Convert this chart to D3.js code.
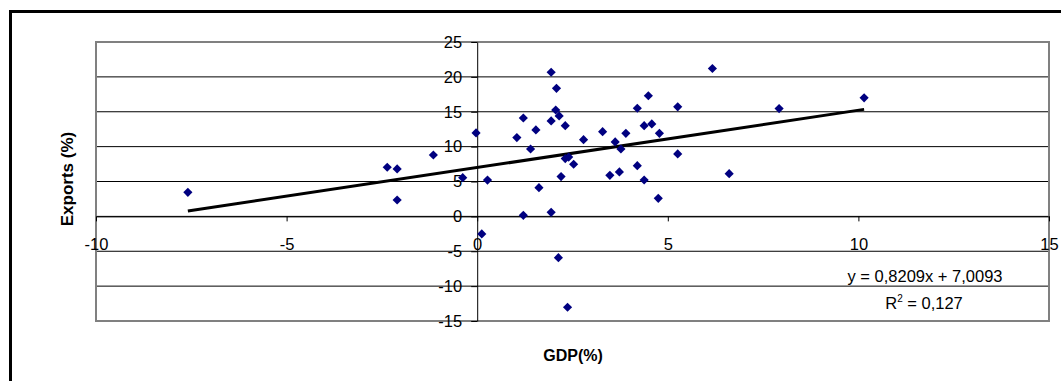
<!DOCTYPE html>
<html>
<head>
<meta charset="utf-8">
<script src="https://cdn.jsdelivr.net/npm/d3@7"></script>
<style>
  body { margin: 0; background: #fff; }
  svg text { font-family: "Liberation Sans", Arial, sans-serif; }
</style>
</head>
<body>
<div id="chart"></div>
<script>
// GDP growth (%) vs export growth (%), one point per observation
const gdp = [-7.59, -2.36, -2.10, -2.10, -1.15, -0.38, -0.03, 0.12, 0.27, 1.04, 1.21, 1.21, 1.40, 1.54, 1.62,
  1.94, 1.94, 1.94, 2.06, 2.08, 2.13, 2.15, 2.20, 2.31, 2.31, 2.37, 2.40, 2.53, 2.79, 3.29, 3.48, 3.62,
  3.73, 3.77, 3.90, 4.20, 4.20, 4.38, 4.38, 4.49, 4.58, 4.75, 4.78, 5.26, 5.26, 6.17, 6.61, 7.92, 10.15];
const exportsPct = [3.45, 7.04, 6.8, 2.35, 8.8, 5.55, 11.96, -2.52, 5.2, 11.3, 14.1, 0.15, 9.66, 12.4, 4.12,
  20.66, 13.68, 0.58, 15.25, 18.36, -5.92, 14.4, 5.7, 13.0, 8.28, -13.03, 8.5, 7.47, 11.0, 12.15, 5.89, 10.67,
  6.37, 9.66, 11.9, 15.5, 7.27, 13.0, 5.22, 17.3, 13.25, 2.59, 11.9, 15.7, 8.95, 21.2, 6.12, 15.45, 17.0];

const xTicks = [-10, -5, 0, 5, 10, 15];
const yTicks = [-15, -10, -5, 0, 5, 10, 15, 20, 25];

// linear trend as reported on the chart
const slope = 0.8209;
const intercept = 7.0093;
const eqLabel = "y = 0,8209x + 7,0093";
const r2Label = " = 0,127";

const width = 1061;
const height = 381;

const svg = d3.select("#chart").append("svg")
  .attr("width", width)
  .attr("height", height);

// outer chart frame (runs past the picture edges)
svg.append("rect")
  .attr("x", 10.5).attr("y", 11.5)
  .attr("width", 1100).attr("height", 500)
  .attr("fill", "none").attr("stroke", "#000").attr("stroke-width", 3);

const x = d3.scaleLinear().domain([-10, 15]).range([96, 1049]);
const y = d3.scaleLinear().domain([-15, 25]).range([321, 42]);

// horizontal gridlines
svg.append("g")
  .selectAll("line")
  .data(yTicks.slice(1, -1))
  .enter().append("line")
  .attr("x1", x(-10)).attr("x2", x(15))
  .attr("y1", d => y(d)).attr("y2", d => y(d))
  .attr("stroke", "#000").attr("stroke-width", 1);

// plot area border
svg.append("rect")
  .attr("x", x(-10)).attr("y", y(25))
  .attr("width", x(15) - x(-10)).attr("height", y(-15) - y(25))
  .attr("fill", "none").attr("stroke", "#808080").attr("stroke-width", 2);

// x axis through y = 0
const xAxis = svg.append("g")
  .attr("transform", `translate(0,${y(0)})`)
  .call(d3.axisBottom(x).tickValues(xTicks).tickFormat(d => String(d))
    .tickSize(5).tickSizeOuter(0).tickPadding(17));

// y axis through x = 0
const yAxis = svg.append("g")
  .attr("transform", `translate(${x(0)},0)`)
  .call(d3.axisLeft(y).tickValues(yTicks).tickFormat(d => String(d))
    .tickSize(6).tickSizeOuter(0).tickPadding(9));

[xAxis, yAxis].forEach(a => {
  a.select(".domain").attr("stroke", "#000");
  a.selectAll(".tick line").attr("stroke", "#000");
  a.selectAll(".tick text")
    .attr("fill", "#000")
    .style("font-family", "'Liberation Sans', Arial, sans-serif")
    .style("font-size", "16.5px");
});

// trend line over the range of the data
const xr = d3.extent(gdp);
svg.append("path")
  .datum(xr)
  .attr("d", d3.line().x(d => x(d)).y(d => y(slope * d + intercept)))
  .attr("stroke", "#000").attr("stroke-width", 3).attr("fill", "none");

// points
const diamond = d3.symbol().type(d3.symbolSquare).size(42);
svg.append("g")
  .selectAll("path")
  .data(gdp.map((g, i) => [g, exportsPct[i]]))
  .enter().append("path")
  .attr("d", diamond)
  .attr("transform", d => `translate(${x(d[0])},${y(d[1])}) rotate(45)`)
  .attr("fill", "#000080");

// equation and R squared
svg.append("text")
  .attr("x", 925).attr("y", 281.5)
  .attr("text-anchor", "middle")
  .style("font-size", "16.5px")
  .text(eqLabel);

const r2 = svg.append("text")
  .attr("x", 924).attr("y", 309)
  .attr("text-anchor", "middle")
  .style("font-size", "16.5px");
r2.append("tspan").text("R");
r2.append("tspan").attr("dy", -7).style("font-size", "10px").text("2");
r2.append("tspan").attr("dy", 7).text(r2Label);

// axis titles
svg.append("text")
  .attr("x", 573).attr("y", 361)
  .attr("text-anchor", "middle")
  .style("font-size", "16px").style("font-weight", "bold")
  .text("GDP(%)");

svg.append("text")
  .attr("transform", "translate(73,179) rotate(-90)")
  .attr("text-anchor", "middle")
  .style("font-size", "17px").style("font-weight", "bold")
  .text("Exports (%)");
</script>
</body>
</html>
